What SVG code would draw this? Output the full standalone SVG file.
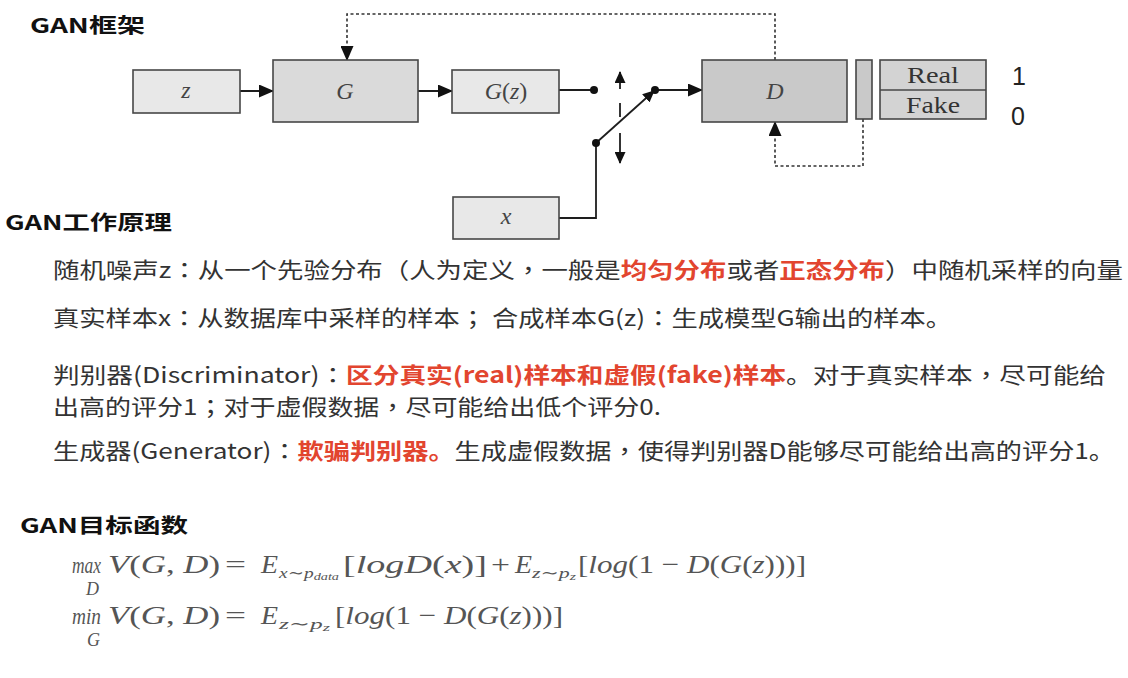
<svg xmlns="http://www.w3.org/2000/svg" width="1128" height="678" viewBox="0 0 1128 678">
<style>
.bg{fill:#ffffff}
.box{stroke:#474747;stroke-width:1.6}
.light{fill:#e8e8e8}
.mid{fill:#dadada}
.dark{fill:#c9c9c9}
.rf{fill:#d3d3d3}
.lbl{font-family:"Liberation Serif",serif;font-style:italic;font-size:24px;fill:#444;text-anchor:middle}
.up{font-style:normal}
.rl{font-family:"Liberation Serif",serif;font-size:24px;fill:#333;text-anchor:middle}
.num{font-family:"Liberation Sans","Noto Sans",sans-serif;font-size:25px;fill:#222}
.head{font-family:"Noto Sans CJK SC","Noto Sans",sans-serif;font-weight:bold;font-size:20px;fill:#111}
.body{font-family:"Noto Sans CJK SC","Noto Sans",sans-serif;font-size:22px;fill:#333}
.p{font-family:"Noto Sans CJK TC","Noto Sans CJK SC",sans-serif}
.red{fill:#e2452f;font-weight:bold}
.m{font-family:"Liberation Serif","DejaVu Serif",serif;font-size:26px;fill:#555}
.i{font-style:italic}
.s1{font-size:15px}
.s2{font-size:11px}
.s3{font-size:24px}
.s4{font-size:18px}
.ln{fill:none;stroke:#1e1e1e;stroke-width:1.8}
.dot{fill:none;stroke:#333;stroke-width:1.6;stroke-dasharray:3 2.5}
.pt{fill:#111}
</style>
<defs>
<marker id="ah" markerUnits="userSpaceOnUse" markerWidth="15" markerHeight="13" viewBox="0 0 15 13" refX="14" refY="6.5" orient="auto">
<path d="M0,0 L15,6.5 L0,13 z" fill="#111"/>
</marker>
<marker id="ahs" markerUnits="userSpaceOnUse" markerWidth="12" markerHeight="11" viewBox="0 0 12 11" refX="11" refY="5.5" orient="auto">
<path d="M0,0 L12,5.5 L0,11 z" fill="#111"/>
</marker>
</defs>
<rect class="bg" x="0" y="0" width="1128" height="678"/>

<text class="head" x="30" y="33" textLength="115" lengthAdjust="spacingAndGlyphs">GAN框架</text>

<g id="connectors">
<line class="ln" x1="240" y1="91" x2="273" y2="91" marker-end="url(#ah)"/>
<line class="ln" x1="418" y1="91" x2="452" y2="91" marker-end="url(#ah)"/>
<line class="ln" x1="559" y1="90" x2="594" y2="90"/>
<line class="ln" x1="596" y1="143" x2="654" y2="91" marker-end="url(#ahs)"/>
<line class="ln" x1="655" y1="90" x2="702" y2="90" marker-end="url(#ah)"/>
<polyline class="ln" points="559,218 596,218 596,143"/>
<line class="ln" x1="620" y1="89" x2="620" y2="72" marker-end="url(#ahs)"/>
<line class="ln" x1="620" y1="133" x2="620" y2="163" marker-end="url(#ahs)"/>
<line class="ln" x1="620" y1="103" x2="620" y2="117"/>
<polyline class="dot" points="775,60 775,14 347,14 347,60" marker-end="url(#ah)"/>
<polyline class="dot" points="863,119 863,166 775,166 775,122" marker-end="url(#ah)"/>
<circle class="pt" cx="594" cy="90" r="4"/>
<circle class="pt" cx="596" cy="143" r="4"/>
<circle class="pt" cx="655" cy="90" r="4"/>
</g>

<g id="node-z">
<rect class="box light" x="133" y="70" width="107" height="43"/>
<text class="lbl" x="186" y="98">z</text>
</g>
<g id="node-G">
<rect class="box mid" x="273" y="60" width="145" height="62"/>
<text class="lbl" x="345" y="99">G</text>
</g>
<g id="node-Gz">
<rect class="box light" x="452" y="70" width="107" height="43"/>
<text class="lbl" x="506" y="99">G<tspan class="up">(</tspan>z<tspan class="up">)</tspan></text>
</g>
<g id="node-D">
<rect class="box dark" x="702" y="60" width="145" height="62"/>
<text class="lbl" x="775" y="99">D</text>
</g>
<g id="node-out">
<rect class="box dark" x="856" y="60" width="16" height="59"/>
</g>
<g id="node-realfake">
<rect class="box rf" x="880" y="60" width="106" height="59"/>
<line class="box" x1="880" y1="90" x2="986" y2="90"/>
<text class="rl" x="933" y="83" textLength="52" lengthAdjust="spacingAndGlyphs">Real</text>
<text class="rl" x="933" y="113" textLength="54" lengthAdjust="spacingAndGlyphs">Fake</text>
</g>
<g id="node-x">
<rect class="box light" x="453" y="197" width="106" height="42"/>
<text class="lbl" x="506" y="224">x</text>
</g>
<text class="num" x="1012" y="85">1</text>
<text class="num" x="1011" y="125">0</text>

<text class="head" x="5" y="230" textLength="167" lengthAdjust="spacingAndGlyphs">GAN工作原理</text>

<text class="body" x="53" y="278" textLength="1070" lengthAdjust="spacingAndGlyphs">随机噪声z<tspan class="p">：</tspan>从一个先验分布（人为定义<tspan class="p">，</tspan>一般是<tspan class="red">均匀分布</tspan>或者<tspan class="red">正态分布</tspan>）中随机采样的向量</text>
<text class="body" x="53" y="326" textLength="899" lengthAdjust="spacingAndGlyphs">真实样本x<tspan class="p">：</tspan>从数据库中采样的样本<tspan class="p">；</tspan> 合成样本G(z)<tspan class="p">：</tspan>生成模型G输出的样本。</text>
<text class="body" x="53" y="383" textLength="1053" lengthAdjust="spacingAndGlyphs">判别器(Discriminator)<tspan class="p">：</tspan><tspan class="red">区分真实(real)样本和虚假(fake)样本</tspan>。对于真实样本<tspan class="p">，</tspan>尽可能给</text>
<text class="body" x="53" y="415" textLength="608" lengthAdjust="spacingAndGlyphs">出高的评分1<tspan class="p">；</tspan>对于虚假数据<tspan class="p">，</tspan>尽可能给出低个评分0.</text>
<text class="body" x="53" y="459" textLength="1062" lengthAdjust="spacingAndGlyphs">生成器(Generator)<tspan class="p">：</tspan><tspan class="red">欺骗判别器。</tspan>生成虚假数据<tspan class="p">，</tspan>使得判别器D能够尽可能给出高的评分1。</text>

<text class="head" x="20" y="533" textLength="168" lengthAdjust="spacingAndGlyphs">GAN目标函数</text>

<g id="formula1">
<text class="m i s3" x="72" y="573" textLength="29" lengthAdjust="spacingAndGlyphs">max</text>
<text class="m i s4" x="86" y="595">D</text>
<text class="m" x="108" y="573" textLength="112" lengthAdjust="spacingAndGlyphs"><tspan class="i">V</tspan>(<tspan class="i">G</tspan>, <tspan class="i">D</tspan>)</text>
<text class="m" x="225" y="573" textLength="21" lengthAdjust="spacingAndGlyphs">=</text>
<text class="m i" x="261" y="573" textLength="17" lengthAdjust="spacingAndGlyphs">E</text>
<text class="m i s1" x="279" y="578" textLength="60" lengthAdjust="spacingAndGlyphs">x∼p<tspan class="s2" dy="2">data</tspan></text>
<text class="m" x="343" y="573" textLength="144" lengthAdjust="spacingAndGlyphs">[<tspan class="i">logD</tspan>(<tspan class="i">x</tspan>)]</text>
<text class="m" x="491" y="573" textLength="19" lengthAdjust="spacingAndGlyphs">+</text>
<text class="m i" x="515" y="573" textLength="17" lengthAdjust="spacingAndGlyphs">E</text>
<text class="m i s1" x="532" y="578" textLength="44" lengthAdjust="spacingAndGlyphs">z∼p<tspan class="s2" dy="2">z</tspan></text>
<text class="m" x="578" y="573" textLength="228" lengthAdjust="spacingAndGlyphs">[<tspan class="i">log</tspan>(1 − <tspan class="i">D</tspan>(<tspan class="i">G</tspan>(<tspan class="i">z</tspan>)))]</text>
</g>
<g id="formula2">
<text class="m i s3" x="72" y="624" textLength="29" lengthAdjust="spacingAndGlyphs">min</text>
<text class="m i s4" x="87" y="646">G</text>
<text class="m" x="108" y="624" textLength="112" lengthAdjust="spacingAndGlyphs"><tspan class="i">V</tspan>(<tspan class="i">G</tspan>, <tspan class="i">D</tspan>)</text>
<text class="m" x="225" y="624" textLength="21" lengthAdjust="spacingAndGlyphs">=</text>
<text class="m i" x="261" y="624" textLength="17" lengthAdjust="spacingAndGlyphs">E</text>
<text class="m i s1" x="279" y="629" textLength="51" lengthAdjust="spacingAndGlyphs">z∼p<tspan class="s2" dy="2">z</tspan></text>
<text class="m" x="335" y="624" textLength="228" lengthAdjust="spacingAndGlyphs">[<tspan class="i">log</tspan>(1 − <tspan class="i">D</tspan>(<tspan class="i">G</tspan>(<tspan class="i">z</tspan>)))]</text>
</g>
</svg>
